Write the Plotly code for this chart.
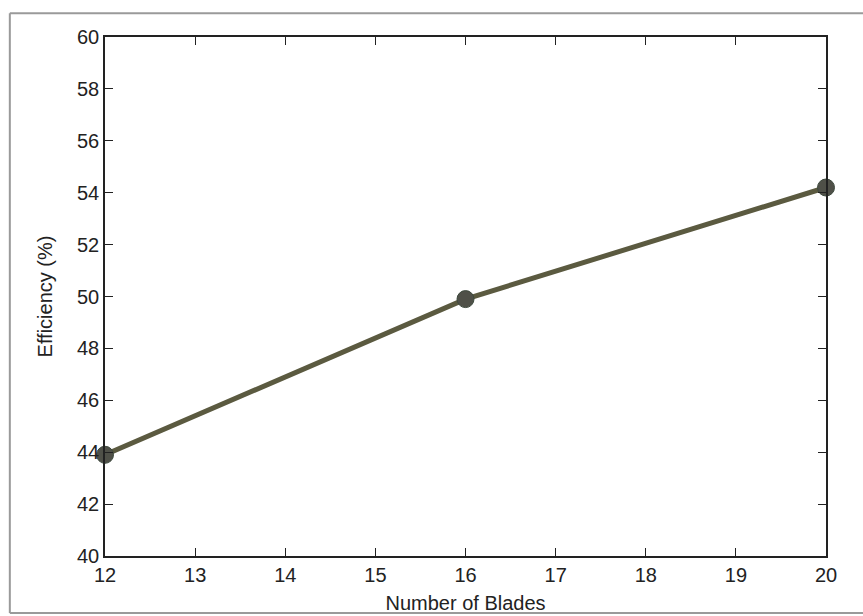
import plotly.graph_objects as go

blades = [12, 16, 20]
efficiency = [43.9, 49.9, 54.2]
x_ticks = list(range(12, 21))
y_ticks = list(range(40, 61, 2))

FONT = "Liberation Sans, Arial"

fig = go.Figure()
fig.add_trace(go.Scatter(
    x=blades, y=efficiency, mode="lines+markers",
    line=dict(color="#5b5a40", width=5),
    marker=dict(size=17, color="#4f5048", line=dict(color="#3e4a3e", width=1)),
    showlegend=False, cliponaxis=False,
))

axis_common = dict(
    showgrid=False, zeroline=False, showline=True, linecolor="#222222", linewidth=1.5,
    mirror="ticks", ticks="inside", ticklen=8, tickcolor="#222222",
    tickfont=dict(family=FONT, size=20, color="#222222"), automargin=False,
)
fig.update_xaxes(range=[12, 20], tickvals=x_ticks,
                 title=dict(text="Number of Blades", standoff=11,
                            font=dict(family=FONT, size=20, color="#222222")),
                 **axis_common)
fig.update_yaxes(range=[40, 60], tickvals=y_ticks,
                 title=dict(text="Efficiency (%)", standoff=19,
                            font=dict(family=FONT, size=20, color="#222222")),
                 **axis_common)

frame = dict(color="#9a9a9a", width=2)
fig.add_shape(type="line", xref="paper", yref="paper",
              x0=-0.132, x1=-0.132, y0=-0.11, y1=1.046, line=frame)
fig.add_shape(type="line", xref="paper", yref="paper",
              x0=-0.132, x1=1.2, y0=1.046, y1=1.046, line=frame)
fig.add_shape(type="line", xref="paper", yref="paper",
              x0=-0.132, x1=1.2, y0=-0.11, y1=-0.11, line=frame)

fig.update_layout(
    width=863, height=616,
    margin=dict(l=105, r=37, t=37, b=60),
    paper_bgcolor="white", plot_bgcolor="white",
)
fig.write_html("out.html", config={"displayModeBar": False},
               post_script="document.body.style.margin='0';document.body.style.overflow='hidden';")
